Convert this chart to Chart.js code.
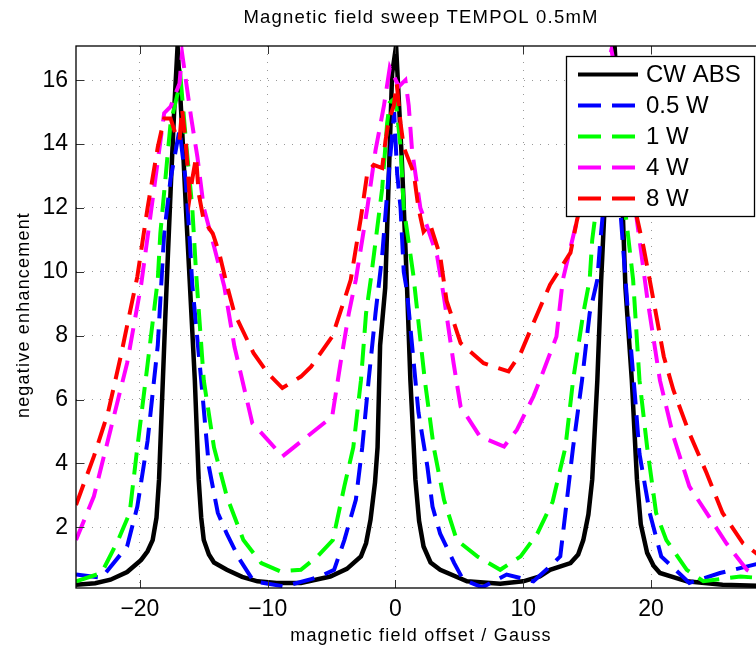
<!DOCTYPE html>
<html>
<head>
<meta charset="utf-8">
<script src="https://cdn.jsdelivr.net/npm/chart.js@4.4.1/dist/chart.umd.min.js"></script>
<style>
html, body { margin: 0; padding: 0; background: #fff; overflow: hidden; }
#cadre { position: relative; width: 800px; height: 648px; }
</style>
</head>
<body>
<div id="cadre"><canvas id="graphBalayage"></canvas></div>
<script>
// ==========================================
// DONNÉES - balayage champ magnétique TEMPOL 0.5mM
// ==========================================

const noms = ["CW ABS", "0.5 W", "1 W", "4 W", "8 W"];
const couleurs = ["#000000", "#0000ff", "#00ff00", "#ff00ff", "#ff0000"];

const ticksX = [-20, -10, 0, 10, 20];
const ticksY = [2, 4, 6, 8, 10, 12, 14, 16];

// CW ABS (absorption)
const cwX = [-25, -23.5, -22.3, -21, -19.9, -19.4, -19.0, -18.7, -18.5, -18.3, -18.0, -17.6, -17.3, -17.05, -16.7, -16.4, -16.1, -15.7, -15.4, -15.2, -15.0, -14.6, -14.2, -13.2, -12, -10.8, -9.3, -7.4, -5.1, -3.8, -2.7, -2.3, -1.95, -1.6, -1.4, -1.2, -0.8, -0.26, 0.05, 0.5, 0.9, 1.17, 1.56, 1.85, 2.2, 2.75, 3.5, 5.6, 8.2, 10.0, 11.3, 12.1, 13.7, 14.3, 14.7, 15.1, 15.4, 15.8, 16.1, 16.6, 17.15, 17.6, 18.0, 18.5, 18.9, 19.2, 19.7, 20.2, 20.7, 22.8, 25.6, 29];
const cwY = [0.2, 0.25, 0.36, 0.6, 0.98, 1.25, 1.6, 2.3, 3.5, 5.6, 8.7, 12.5, 15.2, 17.07, 14.5, 12, 9.7, 6.6, 3.5, 2.3, 1.6, 1.15, 0.9, 0.67, 0.45, 0.31, 0.26, 0.26, 0.46, 0.7, 1.09, 1.5, 2.24, 3.4, 4.5, 7.7, 9.5, 16.2, 17.07, 13.5, 9.6, 6.6, 3.5, 2.2, 1.4, 0.9, 0.67, 0.31, 0.23, 0.31, 0.46, 0.67, 0.88, 1.15, 1.6, 2.4, 3.5, 6.6, 9.75, 14, 17.07, 14, 9.5, 6.6, 3.5, 2.1, 1.2, 0.8, 0.57, 0.31, 0.2, 0.16];

// 0.5 W
const p05X = [-25, -23.0, -21.0, -20.2, -19.4, -18.6, -18.1, -17.6, -16.9, -16.4, -16.1, -15.9, -15.2, -14.6, -13.9, -13.2, -12.2, -11.1, -8.7, -6.6, -5.9, -4.8, -4.0, -3.1, -2.6, -2.1, -1.56, -1.04, -0.52, -0.1, 0.13, 0.4, 0.65, 0.9, 1.3, 1.8, 2.5, 2.9, 3.5, 4.6, 5.3, 6.8, 8.7, 10.8, 12.1, 12.9, 13.3, 13.9, 14.6, 15.2, 15.8, 16.0, 16.5, 17.0, 17.4, 17.7, 18.2, 18.75, 19.1, 19.9, 20.8, 23.0, 25.4, 29];
const p05Y = [0.52, 0.42, 1.4, 2.65, 4.7, 7.7, 11.2, 12.9, 14.45, 12.8, 11.0, 9.6, 6.6, 3.9, 2.45, 1.8, 1.0, 0.31, 0.15, 0.38, 0.46, 0.67, 1.6, 2.86, 4.5, 6.6, 8.7, 10.5, 13.1, 15.0, 13.1, 12.0, 10.0, 9.4, 7.7, 5.6, 3.9, 2.65, 1.8, 0.88, 0.36, 0.12, 0.52, 0.31, 0.78, 1.09, 2.45, 4.5, 6.6, 8.7, 9.75, 10.8, 13, 14.5, 13, 11.4, 8.7, 6.1, 4.3, 2.45, 1.09, 0.26, 0.57, 0.92];

// 1 W
const p1X = [-25, -23, -21.7, -20.8, -20.2, -19.4, -18.6, -18.4, -17.6, -16.8, -16.4, -15.9, -15.6, -15.0, -14.2, -13.2, -11.9, -10.5, -9.0, -7.4, -6.1, -4.9, -4.0, -3.3, -2.7, -2.3, -1.9, -1.04, -0.65, -0.44, 0, 0.4, 0.65, 1.4, 2.3, 3.0, 3.8, 4.8, 6.4, 8.2, 9.8, 11.1, 12.3, 13.3, 13.9, 14.7, 15.2, 15.4, 16.2, 16.9, 17.5, 18.1, 18.6, 19.1, 19.7, 20.4, 21.2, 22.8, 24.1, 27, 29];
const p1Y = [0.31, 0.57, 1.6, 2.45, 4.5, 7.1, 9.75, 11.2, 14.65, 16.0, 14.1, 12.0, 9.96, 6.6, 4.5, 2.97, 1.6, 0.88, 0.62, 0.67, 1.09, 1.6, 3.28, 4.5, 6.6, 8.7, 9.85, 12.6, 14.65, 15.3, 15.45, 13.9, 12.0, 9.9, 6.6, 4.5, 2.86, 1.6, 1.09, 0.67, 1.09, 1.8, 2.8, 4.5, 6.6, 8.7, 9.75, 11.0, 13.5, 15.7, 13.5, 11.5, 9.75, 6.6, 4.5, 2.45, 1.6, 0.67, 0.31, 0.46, 0.4];

// 4 W
const p4X = [-25, -23.6, -22.3, -21.0, -19.9, -18.9, -18.1, -17.6, -16.9, -16.7, -16.0, -15.5, -15.0, -14.2, -13.4, -12.6, -11.2, -10.0, -8.85, -4.95, -4.3, -3.65, -3.1, -2.2, -1.56, -0.9, -0.44, 0.26, 0.78, 1.04, 1.3, 1.95, 2.5, 3.26, 3.8, 4.55, 5.1, 6.6, 8.5, 9.5, 10.8, 11.3, 12.6, 13.1, 14.2, 15.0, 16.0, 16.9, 17.6, 18.3, 18.9, 19.7, 20.7, 21.75, 23.0, 24.35, 25.9, 27.5, 29];
const p4Y = [1.6, 2.97, 5.05, 7.14, 9.6, 12.57, 14.97, 15.17, 15.9, 16.85, 14.86, 13.6, 12.0, 10.8, 9.55, 7.66, 5.26, 4.74, 4.22, 5.47, 7.14, 8.7, 9.75, 12.0, 13.8, 15.2, 16.4, 15.8, 16.0, 15.2, 13.8, 12.0, 11.4, 10.5, 9.2, 7.14, 5.78, 4.85, 4.53, 5.05, 6.1, 6.6, 7.97, 9.75, 11.6, 13.5, 15.5, 16.95, 15.5, 13.5, 11.6, 9.2, 6.6, 4.85, 3.28, 2.45, 1.5, 0.67, 0.3];

// 8 W
const p8X = [-25, -23.6, -22.5, -21.5, -20.2, -19.4, -18.6, -18.1, -17.6, -17.2, -16.9, -16.7, -16.4, -16.1, -15.9, -15.6, -15.4, -15.0, -14.3, -13.8, -13.2, -12.6, -11.1, -10.0, -8.85, -7.4, -6.6, -4.95, -4.0, -3.5, -2.7, -2.2, -1.7, -1.04, -0.78, -0.52, -0.13, 0.1, 0.4, 0.65, 1.43, 1.8, 2.2, 2.7, 3.1, 3.5, 4.0, 5.1, 6.9, 8.85, 9.8, 10.8, 12.1, 13.7, 14.2, 15.0, 16.0, 17.0, 17.8, 18.9, 19.4, 19.9, 21.0, 21.75, 23.0, 24.35, 25.6, 27.2, 28.2, 29];
const p8Y = [2.7, 4.22, 5.58, 7.35, 9.85, 12.0, 13.9, 14.8, 14.8, 14.3, 14.1, 15.1, 14.0, 12.35, 12.9, 13.6, 12.46, 11.6, 11.2, 10.6, 9.6, 8.7, 7.45, 6.83, 6.36, 6.72, 7.03, 7.97, 9.12, 9.75, 11.7, 13.1, 13.35, 13.25, 14.1, 14.75, 15.2, 15.9, 14.65, 13.9, 13.1, 12.0, 11.26, 11.5, 11.0, 10.5, 9.1, 7.77, 7.14, 6.88, 7.45, 8.4, 9.6, 10.6, 11.6, 13.0, 14.5, 15.0, 13.8, 11.7, 10.8, 9.75, 7.35, 6.3, 4.95, 3.7, 2.45, 1.5, 1.2, 0.95];

const seriesX = [cwX, p05X, p1X, p4X, p8X];
const seriesY = [cwY, p05Y, p1Y, p4Y, p8Y];

// ==========================================
// CADRE, GRADUATIONS, LÉGENDE, TITRES
// ==========================================

const habillage = {
    id: "habillage",

    afterDatasetsDraw(chart) {
        const ctx = chart.ctx;
        const a = chart.chartArea;
        const sx = chart.scales.x;
        const sy = chart.scales.y;

        ctx.save();

        // graduations vers l'intérieur, sur les 4 côtés
        ctx.strokeStyle = "#333";
        ctx.lineWidth = 1;
        ctx.setLineDash([]);
        ctx.beginPath();
        ticksX.forEach(v => {
            const px = Math.round(sx.getPixelForValue(v)) + 0.5;
            ctx.moveTo(px, a.bottom); ctx.lineTo(px, a.bottom - 8);
            ctx.moveTo(px, a.top); ctx.lineTo(px, a.top + 8);
        });
        ticksY.forEach(v => {
            const py = Math.round(sy.getPixelForValue(v)) + 0.5;
            ctx.moveTo(a.left, py); ctx.lineTo(a.left + 8, py);
            ctx.moveTo(a.right, py); ctx.lineTo(a.right - 8, py);
        });
        ctx.stroke();

        // cadre
        ctx.strokeStyle = "#000";
        ctx.lineWidth = 1.3;
        ctx.strokeRect(a.left, a.top, a.right - a.left, a.bottom - a.top);

        // légende
        const lx = 566.5, ly = 56.5, lw = 188, lh = 160;
        ctx.fillStyle = "#fff";
        ctx.fillRect(lx, ly, lw, lh);
        ctx.lineWidth = 1.3;
        ctx.strokeStyle = "#000";
        ctx.strokeRect(lx, ly, lw, lh);

        ctx.font = "24px 'Liberation Sans', Arial, sans-serif";
        ctx.textBaseline = "middle";
        ctx.textAlign = "left";
        for (let i = 0; i < noms.length; i++) {
            const yy = 74.5 + i * 31;
            ctx.strokeStyle = couleurs[i];
            ctx.lineWidth = 4;
            ctx.lineCap = "butt";
            ctx.setLineDash(i === 0 ? [] : [23, 11]);
            ctx.beginPath();
            ctx.moveTo(578, yy);
            ctx.lineTo(638, yy);
            ctx.stroke();
            ctx.setLineDash([]);
            ctx.fillStyle = "#000";
            ctx.fillText(noms[i], 646, yy + 1);
        }

        ctx.restore();
    },

    afterDraw(chart) {
        const ctx = chart.ctx;
        ctx.save();
        ctx.fillStyle = "#000";
        ctx.textAlign = "center";
        ctx.textBaseline = "middle";
        ctx.letterSpacing = "1.2px";

        ctx.font = "18.5px 'Liberation Sans', Arial, sans-serif";
        ctx.fillText("Magnetic field sweep TEMPOL 0.5mM", 421, 18);

        ctx.font = "18px 'Liberation Sans', Arial, sans-serif";
        ctx.fillText("magnetic field offset / Gauss", 421, 636);

        ctx.translate(24, 315);
        ctx.rotate(-Math.PI / 2);
        ctx.fillText("negative enhancement", 0, 0);

        ctx.restore();
    }
};

// ==========================================
// GRAPHIQUE
// ==========================================

const jeux = [];
for (let i = 0; i < noms.length; i++) {
    jeux.push({
        label: noms[i],
        data: seriesX[i].map((x, j) => ({ x: x, y: seriesY[i][j] })),
        borderColor: couleurs[i],
        backgroundColor: couleurs[i],
        borderWidth: i === 0 ? 4.5 : 4,
        borderDash: i === 0 ? [] : [22, 11],
        borderCapStyle: "butt",
        pointRadius: 0,
        showLine: true,
        tension: 0,
        order: noms.length - i
    });
}

new Chart(document.getElementById("graphBalayage"), {
    type: "scatter",
    data: { datasets: jeux },
    options: {
        responsive: true,
        maintainAspectRatio: false,
        animation: false,
        layout: { padding: { top: 46, left: 0, right: 34, bottom: 0 } },
        plugins: {
            legend: { display: false },
            title: { display: false },
            tooltip: { enabled: false }
        },
        scales: {
            x: {
                type: "linear",
                min: -25,
                max: 29,
                afterBuildTicks: s => { s.ticks = ticksX.map(v => ({ value: v })); },
                afterFit: s => { s.height = 60; },
                grid: { color: "#999", lineWidth: 1, drawTicks: false },
                border: { display: false, dash: [1, 7] },
                ticks: {
                    color: "#000",
                    padding: 8,
                    font: { family: "'Liberation Sans', Arial, sans-serif", size: 23 },
                    callback: v => String(v).replace("-", "\u2212")
                }
            },
            y: {
                type: "linear",
                min: 0.1,
                max: 17.07,
                afterBuildTicks: s => { s.ticks = ticksY.map(v => ({ value: v })); },
                afterFit: s => { s.width = 76; },
                grid: { color: "#999", lineWidth: 1, drawTicks: false },
                border: { display: false, dash: [1, 7] },
                ticks: {
                    color: "#000",
                    padding: 8,
                    font: { family: "'Liberation Sans', Arial, sans-serif", size: 23 }
                }
            }
        }
    },
    plugins: [habillage]
});
</script>
</body>
</html>
